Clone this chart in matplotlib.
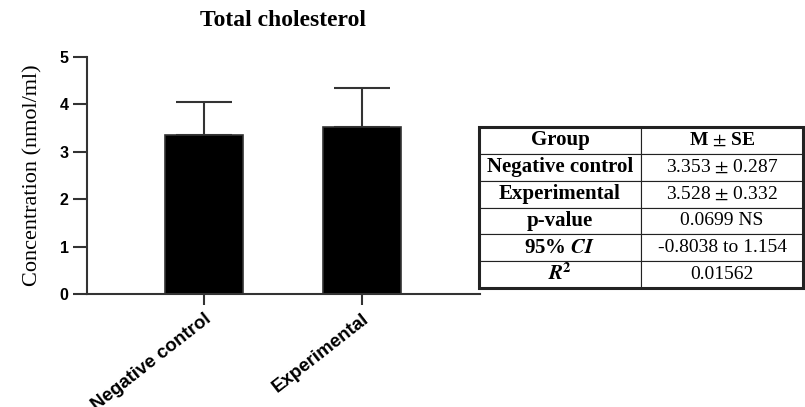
import matplotlib.pyplot as plt
import numpy as np

# values
groups = ['Negative control', 'Experimental']
means = [3.35, 3.53]
err_up = [0.71, 0.82]
yticks = [0, 1, 2, 3, 4, 5]

table_rows = [
    ['Group', r'M $\pm$ SE'],
    ['Negative control', r'3.353 $\pm$ 0.287'],
    ['Experimental', r'3.528 $\pm$ 0.332'],
    ['p-value', '0.0699 NS'],
    [r'95% $\mathbfit{CI}$', '-0.8038 to 1.154'],
    [r'$\mathbfit{R}^{\mathbf{2}}$', '0.01562'],
]

plt.rcParams['mathtext.fontset'] = 'stix'
line_col = '#333333'

fig = plt.figure(figsize=(8.05, 4.07), dpi=100)
ax = fig.add_axes([86.7/805, 1-294/407, (480-86.7)/805, (294-57)/407])

x = np.arange(len(groups))
ax.bar(x, means, width=0.49, color='black', edgecolor=line_col, linewidth=1.2, zorder=2)
ax.errorbar(x, means, yerr=[np.zeros(len(means)), err_up], fmt='none',
            ecolor=line_col, elinewidth=1.5, capsize=20, capthick=1.5, zorder=1)

ax.set_xlim(-0.742, 1.747)
ax.set_ylim(0, 5)
ax.set_yticks(yticks)
ax.set_xticks(x)
ax.set_xticklabels(groups, rotation=38, ha='right', rotation_mode='anchor',
                   fontfamily='Liberation Sans', fontweight='bold', fontsize=13.5)
for lab in ax.get_yticklabels():
    lab.set_fontfamily('Liberation Sans')
    lab.set_fontweight('bold')
    lab.set_fontsize(11.5)

for s in ['top', 'right']:
    ax.spines[s].set_visible(False)
for s in ['left', 'bottom']:
    ax.spines[s].set_color(line_col)
    ax.spines[s].set_linewidth(1.5)
ax.tick_params(axis='y', length=10, width=1.5, color=line_col, pad=3)
ax.tick_params(axis='x', length=8, width=1.5, color=line_col, pad=4)

ax.set_ylabel('Concentration (nmol/ml)', fontfamily='Liberation Serif', fontsize=16, labelpad=12)
fig.text(283/805, 1-21/407, 'Total cholesterol', ha='center', va='center',
         fontfamily='Liberation Serif', fontweight='bold', fontsize=17)

# summary table
tax = fig.add_axes([479/805, 1-288/407, (803-479)/805, (288-127)/407])
tax.axis('off')
tbl = tax.table(cellText=table_rows, bbox=[0, 0, 1, 1], cellLoc='center')
tbl.auto_set_font_size(False)
for (r, c), cell in tbl.get_celld().items():
    cell.set_linewidth(0.8)
    cell.set_edgecolor('#222222')
    t = cell.get_text()
    t.set_fontfamily('Liberation Serif')
    t.set_fontsize(15 if c == 0 else 14)
    if c == 0 or r == 0:
        t.set_fontweight('bold')
tax.add_patch(plt.Rectangle((0, 0), 1, 1, fill=False, lw=2.2, edgecolor='#222222',
                            transform=tax.transAxes, clip_on=False))

fig.savefig('out.png', dpi=100)
